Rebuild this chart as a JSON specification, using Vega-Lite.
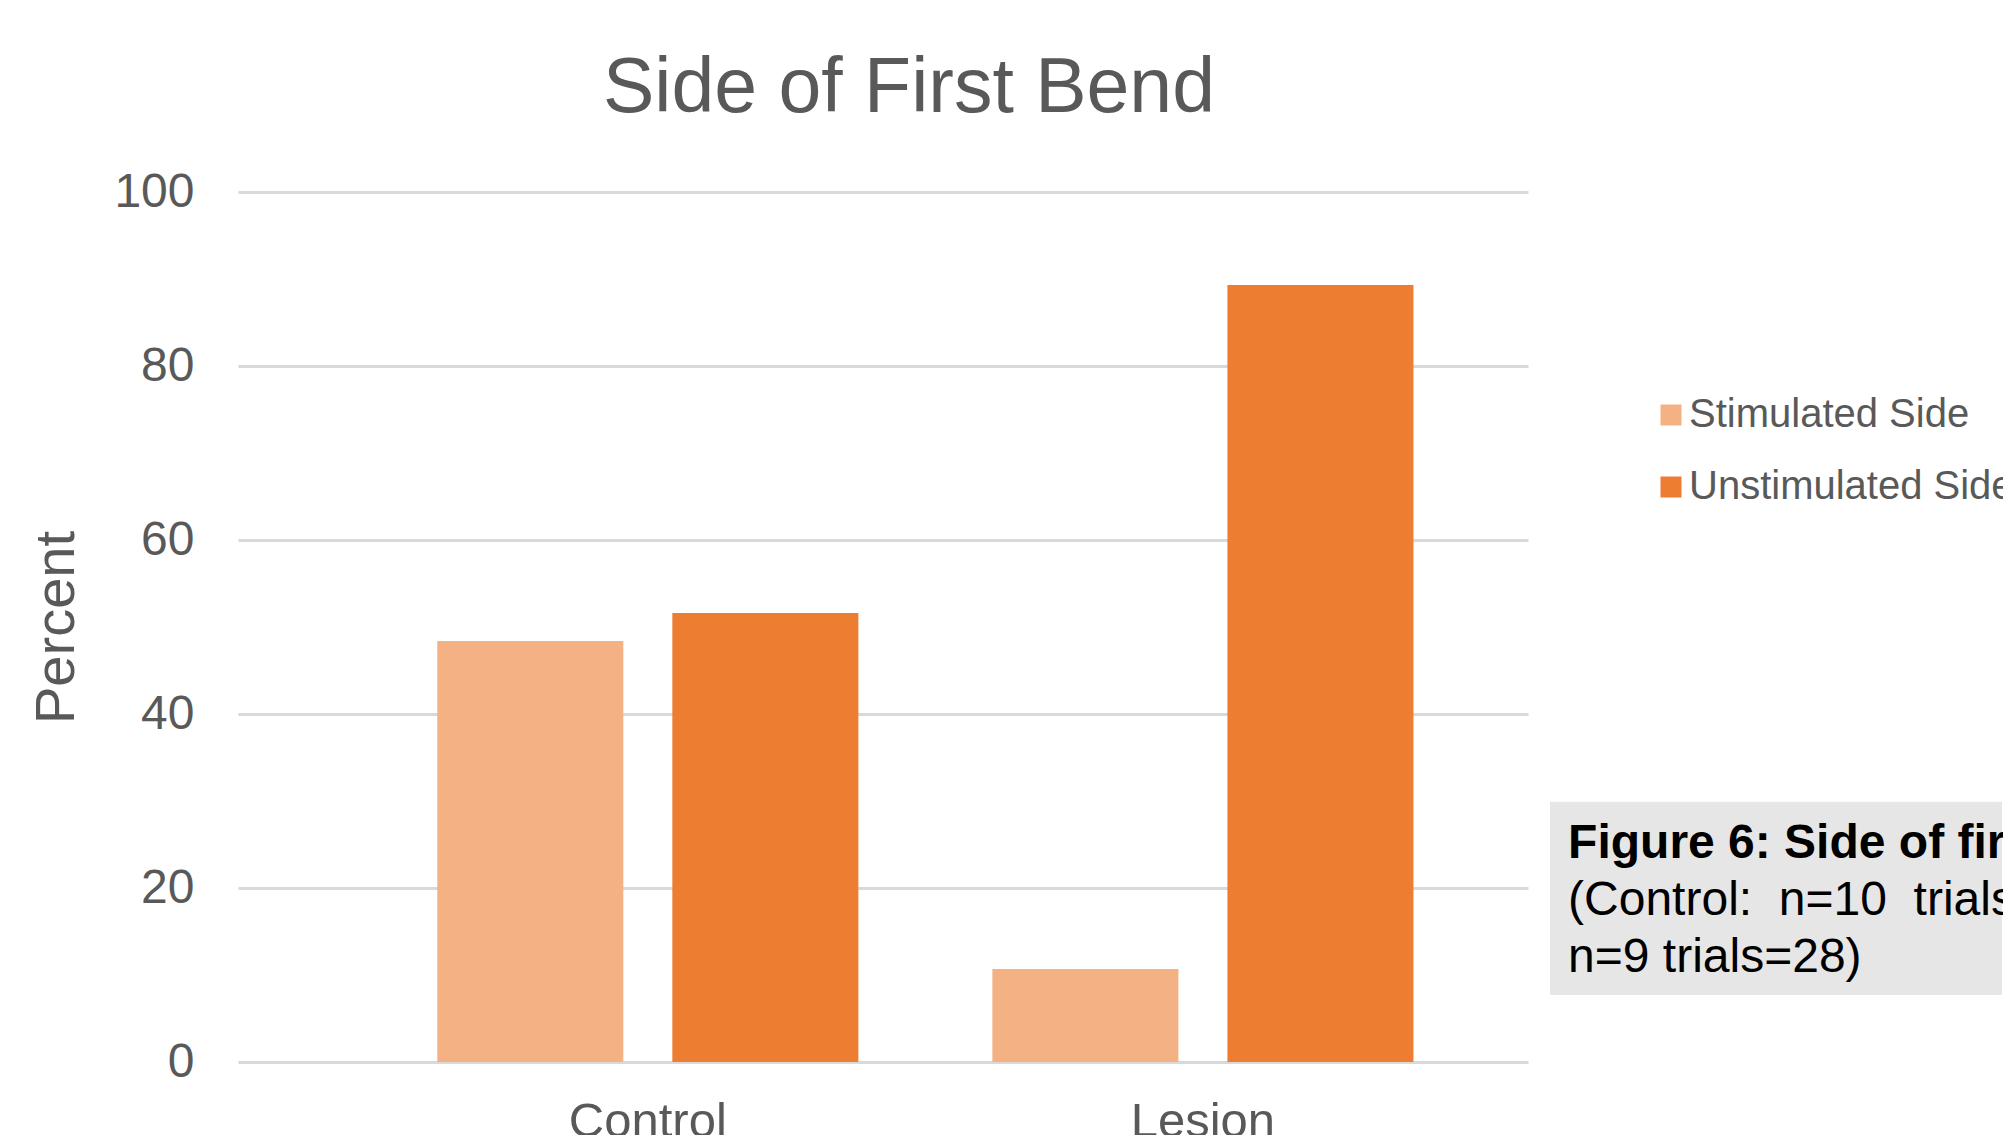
{
  "$schema": "https://vega.github.io/schema/vega-lite/v6.json",
  "autosize": {"type": "pad"},
  "padding": {"left": 28, "top": 50, "right": 0, "bottom": 0},
  "background": "white",
  "config": {
    "font": "Liberation Sans",
    "view": {"stroke": null},
    "concat": {"spacing": 22}
  },
  "bounds": "flush",
  "resolve": {"scale": {"x": "independent", "y": "independent", "color": "independent"}, "legend": {"color": "independent"}},
  "hconcat": [
    {
      "width": 1290,
      "height": 870,
      "title": {
        "text": "Side of First Bend",
        "fontSize": 77,
        "fontWeight": "normal",
        "color": "#595959",
        "anchor": "middle",
        "dx": 26,
        "baseline": "alphabetic",
        "offset": -21
      },
      "data": {
        "values": [
          {"group": "Control", "side": "Stimulated Side", "percent": 48.4},
          {"group": "Control", "side": "Unstimulated Side", "percent": 51.6},
          {"group": "Lesion", "side": "Stimulated Side", "percent": 10.7},
          {"group": "Lesion", "side": "Unstimulated Side", "percent": 89.3}
        ]
      },
      "mark": {"type": "bar"},
      "encoding": {
        "x": {
          "field": "group",
          "type": "nominal",
          "sort": ["Control", "Lesion"],
          "scale": {"paddingInner": 0.2414, "paddingOuter": 0.2827, "align": 0.635},
          "axis": {
            "title": null,
            "domain": false,
            "ticks": false,
            "labelAngle": 0,
            "labelFontSize": 49,
            "labelColor": "#595959",
            "labelPadding": 35
          }
        },
        "xOffset": {
          "field": "side",
          "type": "nominal",
          "sort": ["Stimulated Side", "Unstimulated Side"],
          "scale": {"paddingInner": 0.2085, "paddingOuter": 0}
        },
        "y": {
          "field": "percent",
          "type": "quantitative",
          "scale": {"domain": [0, 100], "nice": false},
          "axis": {
            "title": "Percent",
            "values": [0, 20, 40, 60, 80, 100],
            "domain": false,
            "ticks": false,
            "grid": true,
            "gridColor": "#d9d9d9",
            "gridWidth": 3,
            "labelFontSize": 48,
            "labelColor": "#595959",
            "labelPadding": 44,
            "titleFontSize": 56,
            "titleFontWeight": "normal",
            "titleColor": "#595959",
            "titlePadding": 28
          }
        },
        "color": {
          "field": "side",
          "type": "nominal",
          "scale": {"domain": ["Stimulated Side", "Unstimulated Side"], "range": ["#f4b183", "#ed7d31"]},
          "legend": {
            "title": null,
            "orient": "none",
            "legendX": 1413,
            "legendY": 203,
            "padding": 0,
            "symbolType": "square",
            "symbolSize": 441,
            "symbolStrokeWidth": 0,
            "labelFontSize": 40,
            "labelColor": "#595959",
            "labelOffset": -2,
            "rowPadding": 32,
            "labelLimit": 1000
          }
        }
      }
    },
    {
      "width": 452,
      "height": 870,
      "layer": [
        {
          "data": {"values": [{"x0": 0, "x1": 1, "y0": 7.7, "y1": 29.9}]},
          "mark": {"type": "rect", "color": "#e7e6e6"},
          "encoding": {
            "x": {"field": "x0", "type": "quantitative", "scale": {"domain": [0, 1], "nice": false, "zero": false}, "axis": null},
            "x2": {"field": "x1"},
            "y": {"field": "y0", "type": "quantitative", "scale": {"domain": [0, 100], "nice": false}, "axis": null},
            "y2": {"field": "y1"}
          }
        },
        {
          "data": {"values": [
            {"line": "Figure 6: Side of first bend", "xp": 0.04, "yp": 23.45, "bold": true},
            {"line": "(Control:\u00a0 n=10\u00a0 trials=31; Lesion:", "xp": 0.04, "yp": 16.9, "bold": false},
            {"line": "n=9 trials=28)", "xp": 0.04, "yp": 10.34, "bold": false}
          ]},
          "transform": [{"filter": "datum.bold"}],
          "mark": {"type": "text", "align": "left", "baseline": "alphabetic", "fontSize": 48, "fontWeight": "bold", "color": "#000000", "limit": 470, "ellipsis": "\u200b"},
          "encoding": {
            "x": {"field": "xp", "type": "quantitative", "scale": {"domain": [0, 1], "nice": false, "zero": false}, "axis": null},
            "y": {"field": "yp", "type": "quantitative", "scale": {"domain": [0, 100], "nice": false}, "axis": null},
            "text": {"field": "line"}
          }
        },
        {
          "data": {"values": [
            {"line": "Figure 6: Side of first bend", "xp": 0.04, "yp": 23.45, "bold": true},
            {"line": "(Control:\u00a0 n=10\u00a0 trials=31; Lesion:", "xp": 0.04, "yp": 16.9, "bold": false},
            {"line": "n=9 trials=28)", "xp": 0.04, "yp": 10.34, "bold": false}
          ]},
          "transform": [{"filter": "!datum.bold"}],
          "mark": {"type": "text", "align": "left", "baseline": "alphabetic", "fontSize": 48, "color": "#000000", "limit": 470, "ellipsis": "\u200b"},
          "encoding": {
            "x": {"field": "xp", "type": "quantitative", "scale": {"domain": [0, 1], "nice": false, "zero": false}, "axis": null},
            "y": {"field": "yp", "type": "quantitative", "scale": {"domain": [0, 100], "nice": false}, "axis": null},
            "text": {"field": "line"}
          }
        }
      ]
    }
  ]
}
